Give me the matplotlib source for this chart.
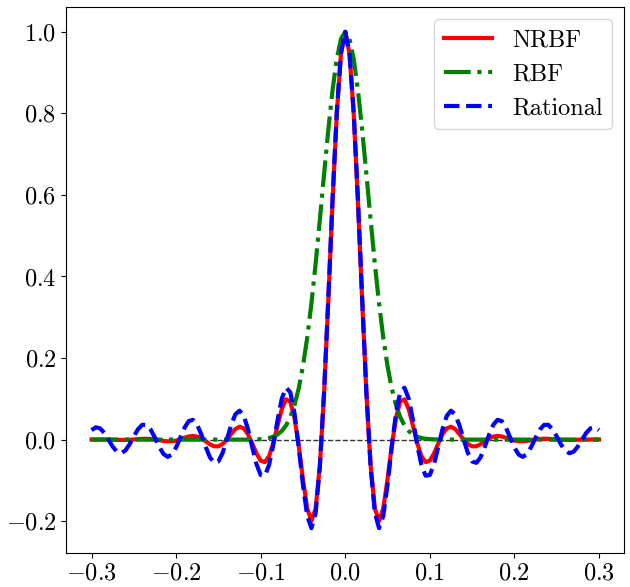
import numpy as np
import matplotlib
matplotlib.use('Agg')
import matplotlib.pyplot as plt

plt.rcParams['font.family'] = 'serif'
plt.rcParams['font.serif'] = ['cmr10']
plt.rcParams['mathtext.fontset'] = 'cm'
plt.rcParams['axes.formatter.use_mathtext'] = True
plt.rcParams['axes.unicode_minus'] = True

# sample positions, -0.3 .. 0.3 every 0.005
x = np.linspace(-0.3, 0.3, 121)

# values (even curves)
nrbf = [
    0.0002, 0.0003, 0.0003, 0.0002, 0.0000, -0.0003, -0.0007, -0.0009, -0.0008, -0.0004,
    0.0003, 0.0011, 0.0018, 0.0020, 0.0015, 0.0003, -0.0014, -0.0032, -0.0043, -0.0041,
    -0.0024, 0.0007, 0.0045, 0.0077, 0.0090, 0.0073, 0.0026, -0.0043, -0.0115, -0.0164,
    -0.0166, -0.0110, 0.0000, 0.0136, 0.0257, 0.0315, 0.0275, 0.0129, -0.0096, -0.0338,
    -0.0517, -0.0553, -0.0405, -0.0080, 0.0346, 0.0751, 0.0987, 0.0932, 0.0535, -0.0155,
    -0.0976, -0.1682, -0.1999, -0.1690, -0.0631, 0.1140, 0.3412, 0.5836, 0.7988, 0.9472,
    1.0,
    0.9472, 0.7988, 0.5836, 0.3412, 0.1140, -0.0631, -0.1690, -0.1999, -0.1682, -0.0976,
    -0.0155, 0.0535, 0.0932, 0.0987, 0.0751, 0.0346, -0.0080, -0.0405, -0.0553, -0.0517,
    -0.0338, -0.0096, 0.0129, 0.0275, 0.0315, 0.0257, 0.0136, 0.0000, -0.0110, -0.0166,
    -0.0164, -0.0115, -0.0043, 0.0026, 0.0073, 0.0090, 0.0077, 0.0045, 0.0007, -0.0024,
    -0.0041, -0.0043, -0.0032, -0.0014, 0.0003, 0.0015, 0.0020, 0.0018, 0.0011, 0.0003,
    -0.0004, -0.0008, -0.0009, -0.0007, -0.0003, 0.0000, 0.0002, 0.0003, 0.0003, 0.0002,
]

rbf = [
    0.0, 0.0, 0.0, 0.0, 0.0, 0.0, 0.0, 0.0, 0.0, 0.0,
    0.0, 0.0, 0.0, 0.0, 0.0, 0.0, 0.0, 0.0, 0.0, 0.0,
    0.0, 0.0, 0.0, 0.0, 0.0, 0.0, 0.0, 0.0, 0.0, 0.0,
    0.0, 0.0, 0.0, 0.0, 0.0, 0.0, 0.0, 0.0, 0.0002, 0.0005,
    0.0010, 0.0020, 0.0039, 0.0070, 0.0124, 0.0211, 0.0347, 0.0551, 0.0846, 0.1255,
    0.1800, 0.2493, 0.3337, 0.4316, 0.5394, 0.6513, 0.7600, 0.8570, 0.9337, 0.9830,
    1.0,
    0.9830, 0.9337, 0.8570, 0.7600, 0.6513, 0.5394, 0.4316, 0.3337, 0.2493, 0.1800,
    0.1255, 0.0846, 0.0551, 0.0347, 0.0211, 0.0124, 0.0070, 0.0039, 0.0020, 0.0010,
    0.0005, 0.0002, 0.0, 0.0, 0.0, 0.0, 0.0, 0.0, 0.0, 0.0,
    0.0, 0.0, 0.0, 0.0, 0.0, 0.0, 0.0, 0.0, 0.0, 0.0,
    0.0, 0.0, 0.0, 0.0, 0.0, 0.0, 0.0, 0.0, 0.0, 0.0,
    0.0, 0.0, 0.0, 0.0, 0.0, 0.0, 0.0, 0.0, 0.0, 0.0,
]

rational = [
    0.0232, 0.0300, 0.0277, 0.0166, 0.0000, -0.0172, -0.0297, -0.0334, -0.0268, -0.0115,
    0.0079, 0.0257, 0.0362, 0.0358, 0.0241, 0.0044, -0.0176, -0.0351, -0.0424, -0.0368,
    -0.0193, 0.0051, 0.0292, 0.0455, 0.0483, 0.0360, 0.0117, -0.0178, -0.0435, -0.0571,
    -0.0535, -0.0327, 0.0000, 0.0351, 0.0618, 0.0709, 0.0581, 0.0256, -0.0180, -0.0600,
    -0.0869, -0.0885, -0.0617, -0.0117, 0.0483, 0.1006, 0.1273, 0.1161, 0.0645, -0.0181,
    -0.1111, -0.1869, -0.2172, -0.1801, -0.0661, 0.1178, 0.3484, 0.5904, 0.8030, 0.9484,
    1.0,
    0.9484, 0.8030, 0.5904, 0.3484, 0.1178, -0.0661, -0.1801, -0.2172, -0.1869, -0.1111,
    -0.0181, 0.0645, 0.1161, 0.1273, 0.1006, 0.0483, -0.0117, -0.0617, -0.0885, -0.0869,
    -0.0600, -0.0180, 0.0256, 0.0581, 0.0709, 0.0618, 0.0351, 0.0000, -0.0327, -0.0535,
    -0.0571, -0.0435, -0.0178, 0.0117, 0.0360, 0.0483, 0.0455, 0.0292, 0.0051, -0.0193,
    -0.0368, -0.0424, -0.0351, -0.0176, 0.0044, 0.0241, 0.0358, 0.0362, 0.0257, 0.0079,
    -0.0115, -0.0268, -0.0334, -0.0297, -0.0172, 0.0000, 0.0166, 0.0277, 0.0300, 0.0232,
]

fig = plt.figure(figsize=(6.3, 5.87), dpi=100)
ax = fig.add_axes([0.105, 0.058, 0.886, 0.930])

# zero reference line
ax.hlines(0, x[0], x[-1], colors='k', linestyles='--', linewidth=1, alpha=0.8)

ax.plot(x, nrbf, color='red', linestyle='-', linewidth=3, label='NRBF')
ax.plot(x, rbf, color='green', linestyle='-.', linewidth=3, label='RBF')
ax.plot(x, rational, color='blue', linestyle='--', linewidth=3, label='Rational')

ax.set_xticks([-0.3, -0.2, -0.1, 0.0, 0.1, 0.2, 0.3])
ax.set_yticks([-0.2, 0.0, 0.2, 0.4, 0.6, 0.8, 1.0])
ax.tick_params(labelsize=17.5)
ax.legend(loc='upper right', fontsize=17.5)

plt.savefig('out.png', dpi=100)
plt.close()
